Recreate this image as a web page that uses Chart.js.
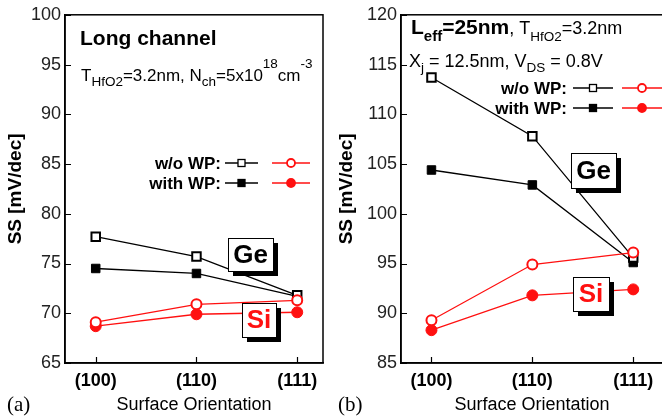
<!DOCTYPE html>
<html>
<head>
<meta charset="utf-8">
<script src="https://cdn.jsdelivr.net/npm/chart.js@4.4.1/dist/chart.umd.min.js"></script>
<style>
  html, body { margin: 0; padding: 0; background: #fff; overflow: hidden; }
  body { width: 662px; height: 419px; position: relative; }
  .panel { position: absolute; top: 0; height: 419px; }
  #panelA { left: 0; width: 331px; }
  #panelB { left: 331px; width: 340px; }
</style>
</head>
<body>
<div class="panel" id="panelA"><canvas id="chartA" width="331" height="419"></canvas></div>
<div class="panel" id="panelB"><canvas id="chartB" width="340" height="419"></canvas></div>
<script>
// categories
const orientations = ['(100)', '(110)', '(111)'];

// (a) long channel, SS in mV/dec
const geNoWpA = [77.7, 75.7, 71.8];
const geWpA   = [74.5, 74.0, 71.7];
const siNoWpA = [69.1, 70.9, 71.3];
const siWpA   = [68.7, 69.9, 70.1];
const yTicksA = [65, 70, 75, 80, 85, 90, 95, 100];

// (b) Leff = 25nm
const geNoWpB = [113.7, 107.8, 95.6];
const geWpB   = [104.4, 102.9, 95.1];
const siNoWpB = [89.3, 94.9, 96.1];
const siWpB   = [88.3, 91.8, 92.4];
const yTicksB = [85, 90, 95, 100, 105, 110, 115, 120];

const FONT = '"Liberation Sans", Arial, Helvetica, sans-serif';
Chart.defaults.font.family = FONT;
const RED = '#ff1010';

function pts(values) {
  return values.map((v, i) => ({ x: i, y: v }));
}

function series(values, color, style, filled) {
  return {
    data: pts(values),
    borderColor: color,
    borderWidth: 1.3,
    pointStyle: style,
    pointRadius: style === 'rect' ? 6 : (filled ? 5.5 : 5),
    pointBorderWidth: filled ? 1 : 2,
    pointBorderColor: color,
    pointBackgroundColor: filled ? color : '#fff',
    fill: false,
    tension: 0
  };
}

// text with sub/superscripts, drawn left to right
function richText(ctx, x, y, parts) {
  let cx = x;
  ctx.textBaseline = 'alphabetic';
  ctx.textAlign = 'left';
  parts.forEach(p => {
    ctx.font = (p.b ? 'bold ' : '') + p.s + 'px ' + FONT;
    ctx.fillText(p.t, cx, y + (p.dy || 0));
    cx += ctx.measureText(p.t).width;
  });
}

function legendRow(ctx, textRight, y, label, black, red, filled) {
  ctx.fillStyle = '#000';
  ctx.font = 'bold 17px ' + FONT;
  ctx.textAlign = 'right';
  ctx.textBaseline = 'middle';
  ctx.fillText(label, textRight, y + 1);
  ctx.lineWidth = 1.3;
  // black line + square
  ctx.strokeStyle = '#000';
  ctx.beginPath(); ctx.moveTo(black[0], y); ctx.lineTo(black[1], y); ctx.stroke();
  const mx = (black[0] + black[1]) / 2;
  ctx.fillStyle = filled ? '#000' : '#fff';
  ctx.fillRect(mx - 3.5, y - 3.5, 7, 7);
  ctx.lineWidth = 1.3;
  ctx.strokeRect(mx - 3.5, y - 3.5, 7, 7);
  // red line + circle
  ctx.strokeStyle = RED;
  ctx.beginPath(); ctx.moveTo(red[0], y); ctx.lineTo(red[1], y); ctx.stroke();
  const cx = (red[0] + red[1]) / 2;
  ctx.beginPath(); ctx.arc(cx, y, 4, 0, Math.PI * 2);
  ctx.fillStyle = filled ? RED : '#fff';
  ctx.fill();
  ctx.lineWidth = 1.8;
  ctx.stroke();
}

function tagBox(ctx, x0, y0, x1, y1, text, color) {
  ctx.fillStyle = '#000';
  ctx.fillRect(x0 + 5, y0 + 5, x1 - x0, y1 - y0);
  ctx.fillStyle = '#fff';
  ctx.fillRect(x0, y0, x1 - x0, y1 - y0);
  ctx.strokeStyle = '#000';
  ctx.lineWidth = 1;
  ctx.strokeRect(x0 + 0.5, y0 + 0.5, x1 - x0, y1 - y0);
  ctx.fillStyle = color;
  ctx.font = 'bold 26px ' + FONT;
  ctx.textAlign = 'center';
  ctx.textBaseline = 'middle';
  ctx.fillText(text, (x0 + x1) / 2, (y0 + y1) / 2 + 1);
}

function framePlugin(drawExtras) {
  return {
    id: 'frame',
    afterDraw(chart) {
      const { ctx, chartArea: a, scales } = chart;
      const xs = scales.x, ys = scales.y;
      ctx.save();
      ctx.strokeStyle = '#000';
      ctx.lineWidth = 1.5;
      ctx.strokeRect(a.left, a.top, a.right - a.left, a.bottom - a.top);
      // inward ticks
      ctx.beginPath();
      ys.ticks.forEach(t => {
        const py = Math.round(ys.getPixelForValue(t.value)) + 0.5;
        ctx.moveTo(a.left, py); ctx.lineTo(a.left + 6, py);
      });
      xs.ticks.forEach(t => {
        const px = Math.round(xs.getPixelForValue(t.value)) + 0.5;
        ctx.moveTo(px, a.bottom); ctx.lineTo(px, a.bottom - 6);
      });
      ctx.lineWidth = 1.2;
      ctx.stroke();
      drawExtras(ctx, a);
      ctx.restore();
    }
  };
}

function makeChart(id, datasets, yTicks, xRange, yWidth, padRight, extras) {
  return new Chart(document.getElementById(id), {
    type: 'line',
    data: { datasets: datasets },
    options: {
      responsive: false,
      animation: false,
      devicePixelRatio: 1,
      layout: { padding: { top: 13, right: padRight, left: 0, bottom: 0 } },
      plugins: { legend: { display: false }, tooltip: { enabled: false } },
      scales: {
        x: {
          type: 'linear',
          min: xRange[0],
          max: xRange[1],
          afterBuildTicks: s => { s.ticks = orientations.map((_, i) => ({ value: i })); },
          afterFit: s => { s.height = 56; },
          ticks: {
            callback: v => orientations[v],
            font: { size: 18, weight: 'bold' },
            color: '#000',
            padding: 7,
            maxRotation: 0,
            autoSkip: false
          },
          grid: { drawOnChartArea: false, drawTicks: false },
          border: { color: '#000', width: 1.5 },
          title: {
            display: true,
            text: 'Surface Orientation',
            font: { size: 18 },
            color: '#000',
            padding: { top: 0, bottom: 3 }
          }
        },
        y: {
          min: yTicks[0],
          max: yTicks[yTicks.length - 1],
          afterFit: s => { s.width = yWidth; },
          ticks: {
            stepSize: yTicks[1] - yTicks[0],
            font: { size: 18 },
            color: '#222',
            padding: 4
          },
          grid: { drawOnChartArea: false, drawTicks: false },
          border: { color: '#000', width: 1.5 },
          title: {
            display: true,
            text: 'SS [mV/dec]',
            font: { size: 19, weight: 'bold' },
            color: '#000',
            padding: { top: 4, bottom: 0 }
          }
        }
      }
    },
    plugins: [framePlugin(extras)]
  });
}

// Si listed first so it is drawn on top of Ge
makeChart('chartA', [
  series(siNoWpA, RED, 'circle', false),
  series(siWpA, RED, 'circle', true),
  series(geNoWpA, '#000', 'rect', false),
  series(geWpA, '#000', 'rect', true)
], yTicksA, [-0.305, 2.256], 65, 6, (ctx) => {
  ctx.fillStyle = '#000';
  richText(ctx, 80, 45, [{ t: 'Long channel', s: 21, b: true }]);
  richText(ctx, 81, 81, [
    { t: 'T', s: 17 }, { t: 'HfO2', s: 13.5, dy: 5 },
    { t: '=3.2nm, N', s: 17 }, { t: 'ch', s: 13.5, dy: 5 },
    { t: '=5x10', s: 17 }, { t: '18', s: 13.5, dy: -13 },
    { t: 'cm', s: 17 }, { t: '-3', s: 13.5, dy: -13 }
  ]);
  legendRow(ctx, 221, 163, 'w/o WP:', [225, 258], [272, 310], false);
  legendRow(ctx, 221, 183, 'with WP:', [225, 258], [272, 310], true);
  tagBox(ctx, 228, 238, 273, 271, 'Ge', '#000');
  tagBox(ctx, 242, 303, 276, 337, 'Si', RED);
  ctx.fillStyle = '#000';
  ctx.font = '21px "Liberation Serif", "Times New Roman", serif';
  ctx.textAlign = 'left';
  ctx.textBaseline = 'middle';
  ctx.fillText('(a)', 7, 405);
});

makeChart('chartB', [
  series(siNoWpB, RED, 'circle', false),
  series(siWpB, RED, 'circle', true),
  series(geNoWpB, '#000', 'rect', false),
  series(geWpB, '#000', 'rect', true)
], yTicksB, [-0.302, 2.295], 70, 6, (ctx) => {
  ctx.fillStyle = '#000';
  richText(ctx, 80, 34, [
    { t: 'L', s: 21, b: true }, { t: 'eff', s: 15, b: true, dy: 7 },
    { t: '=25nm', s: 21, b: true },
    { t: ', T', s: 18 }, { t: 'HfO2', s: 13.5, dy: 7 },
    { t: '=3.2nm', s: 18 }
  ]);
  richText(ctx, 78, 67, [
    { t: 'X', s: 18 }, { t: 'j', s: 13.5, dy: 5 },
    { t: ' = 12.5nm, V', s: 18 }, { t: 'DS', s: 13.5, dy: 5 },
    { t: ' = 0.8V', s: 18 }
  ]);
  legendRow(ctx, 236, 88, 'w/o WP:', [242, 282], [291, 331], false);
  legendRow(ctx, 236, 108, 'with WP:', [242, 282], [291, 331], true);
  tagBox(ctx, 240, 153, 285, 188, 'Ge', '#000');
  tagBox(ctx, 242, 277, 278, 311, 'Si', RED);
  ctx.fillStyle = '#000';
  ctx.font = '21px "Liberation Serif", "Times New Roman", serif';
  ctx.textAlign = 'left';
  ctx.textBaseline = 'middle';
  ctx.fillText('(b)', 7, 405);
});
</script>
</body>
</html>
